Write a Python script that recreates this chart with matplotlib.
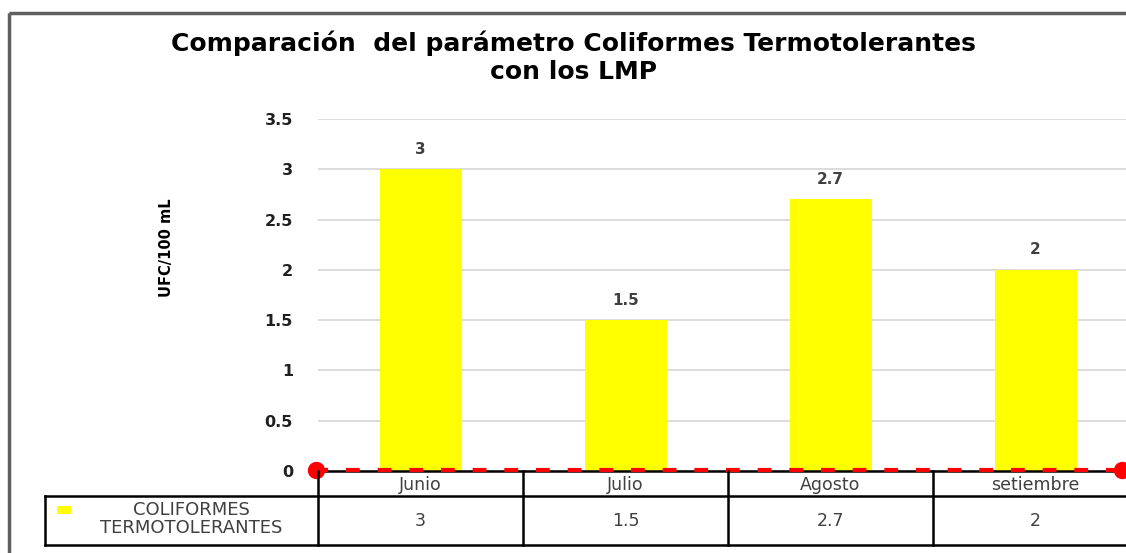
import matplotlib
matplotlib.use("Agg")
import matplotlib.pyplot as plt
from matplotlib.transforms import Affine2D, blended_transform_factory, offset_copy
from matplotlib.patches import Rectangle
from matplotlib.lines import Line2D
from matplotlib import font_manager

# ---- data ----
categories = ["Junio", "Julio", "Agosto", "setiembre"]
values = [3, 1.5, 2.7, 2]
value_labels = ["3", "1.5", "2.7", "2"]
series_name = "COLIFORMES\nTERMOTOLERANTES"
lmp_values = [0, 0]
lmp_x = [-0.51, 3.42]
yticks = [0, 0.5, 1, 1.5, 2, 2.5, 3, 3.5]
ytick_labels = ["0", "0.5", "1", "1.5", "2", "2.5", "3", "3.5"]
title = "Comparación  del parámetro Coliformes Termotolerantes\ncon los LMP"
ylabel = "UFC/100 mL"

W, H = 1126, 553
fig = plt.figure(figsize=(W / 100, H / 100), dpi=100)
pix = Affine2D().scale(1 / W, -1 / H).translate(0, 1) + fig.transFigure

names = {f.name for f in font_manager.fontManager.ttflist}
narrow = "Liberation Sans Narrow" if "Liberation Sans Narrow" in names else "DejaVu Sans"

# outer chart border
fig.patches.append(Rectangle((9, 13), 1200, 600, transform=pix, fill=False,
                             edgecolor="#5f5f5f", linewidth=2.5))

# title
fig.text(573 / W, 1 - 57 / H, title, ha="center", va="center", fontsize=18,
         fontweight="bold", color="black", linespacing=1.2, family="DejaVu Sans")

ax = fig.add_axes([318 / W, (H - 471) / H, 820 / W, 352 / H])
ax.set_xlim(-0.5, 3.5)
ax.set_ylim(0, 3.5)
x = list(range(len(categories)))
ax.bar(x, values, width=0.4, color="#FFFF00", zorder=2)
for xi, v, lab in zip(x, values, value_labels):
    ax.annotate(lab, (xi, v), xytext=(0, 9), textcoords="offset points",
                ha="center", va="bottom", fontsize=11, fontweight="bold", color="#404040")

ax.set_yticks(yticks)
ax.set_yticklabels(ytick_labels, fontsize=11.5, fontweight="bold", color="#202020")
ax.tick_params(axis="y", length=0, pad=18)
ax.set_xticks([])
ax.grid(axis="y", color="#d9d9d9", linewidth=1.3, zorder=0)
ax.set_axisbelow(True)
for s in ["top", "right", "left"]:
    ax.spines[s].set_visible(False)
ax.spines["bottom"].set_color("black")
ax.spines["bottom"].set_linewidth(1.8)

# LMP line (drawn just above the axis line, as in the reference)
lmp_tr = offset_copy(ax.transData, fig=fig, x=0, y=1.5, units="dots")
ax.plot(lmp_x, lmp_values, color="#FF0000", linewidth=3, linestyle=(8, (3.3, 4.3)),
        marker="o", markersize=11.5, clip_on=False, zorder=5, transform=lmp_tr,
        solid_capstyle="butt", dash_capstyle="butt")

# y axis title
fig.text(166 / W, 1 - 248 / H, ylabel, rotation=90, ha="center", va="center",
         fontsize=10.5, fontweight="bold", family=[narrow, "DejaVu Sans"], color="black")

# data table below axes
bt = blended_transform_factory(ax.transData, pix)
y0, y1, y2 = 471, 496, 545
lw = 1.8
for b in [-0.5, 0.5, 1.5, 2.5, 3.5]:
    fig.lines.append(Line2D([b, b], [y0, y2], transform=bt, color="black", linewidth=lw))
fig.lines.append(Line2D([45, 1200], [y1, y1], transform=pix, color="black", linewidth=lw))
fig.lines.append(Line2D([45, 1200], [y2, y2], transform=pix, color="black", linewidth=lw))
fig.lines.append(Line2D([45, 45], [y1, y2], transform=pix, color="black", linewidth=lw))
for xi, c, lab in zip(x, categories, value_labels):
    fig.text(0, 0, c, transform=bt, fontsize=12.5, color="#404040", ha="center", va="center",
             family="DejaVu Sans").set_position((xi, (y0 + y1) / 2 + 1))
    fig.text(0, 0, lab, transform=bt, fontsize=12.5, color="#404040", ha="center", va="center",
             family="DejaVu Sans").set_position((xi, (y1 + y2) / 2 + 1))

# legend key inside table
fig.patches.append(Rectangle((57, 506), 14, 8, transform=pix, facecolor="#FFFF00",
                             edgecolor="none"))
fig.text(191 / W, 1 - 519 / H, series_name, ha="center", va="center", fontsize=13,
         color="#404040", linespacing=1.05, family="DejaVu Sans")

fig.savefig("out.png", dpi=100)
